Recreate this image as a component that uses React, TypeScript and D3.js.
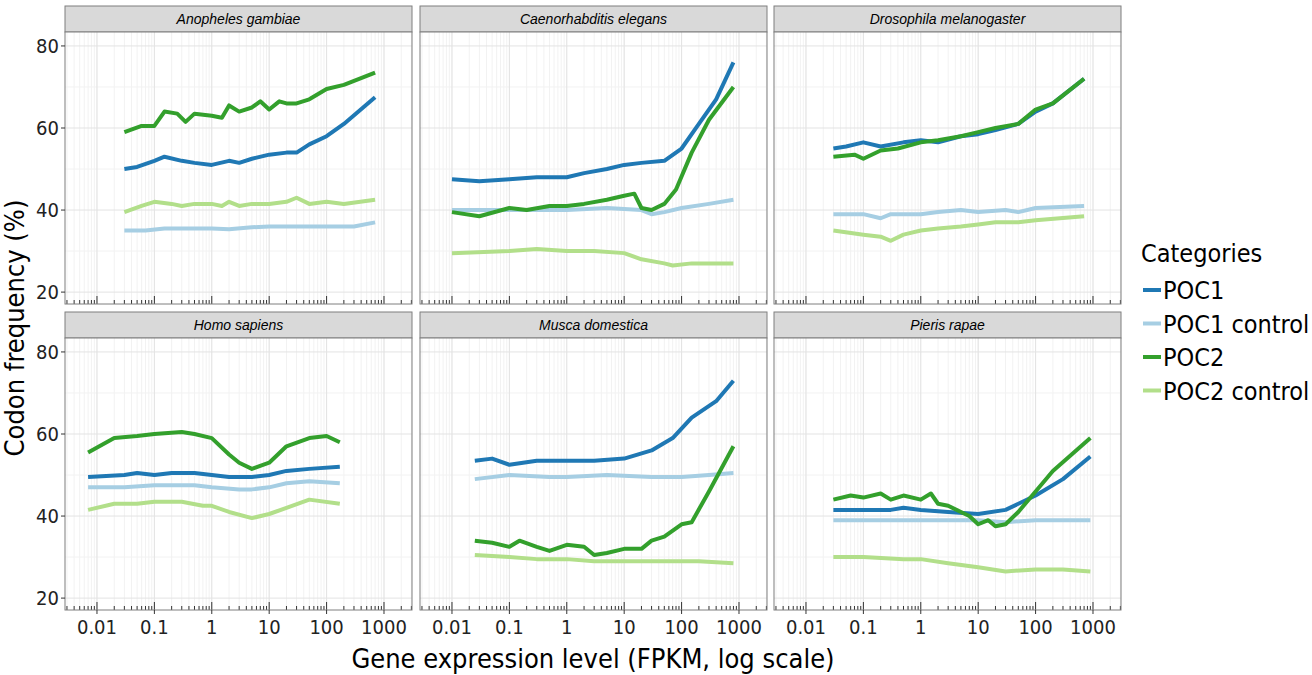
import React from 'react';
import * as d3 from 'd3';

type Pt = [number, number];

const species = ['Anopheles gambiae', 'Caenorhabditis elegans', 'Drosophila melanogaster', 'Homo sapiens', 'Musca domestica', 'Pieris rapae'];
const categories = ['POC1', 'POC1 control', 'POC2', 'POC2 control'];
const colors = ['#1f78b4', '#a6cee3', '#33a02c', '#b2df8a'];
const yTicks = [20, 40, 60, 80];
const xTicks = [0.01, 0.1, 1, 10, 100, 1000];
const xTickLabels = ['0.01', '0.1', '1', '10', '100', '1000'];

const anopheles: Pt[][] = [
  [[0.03,50],[0.05,50.5],[0.1,52],[0.15,53],[0.3,52],[0.5,51.5],[1,51],[2,52],[3,51.5],[5,52.5],[10,53.5],[20,54],[30,54],[50,56],[100,58],[200,61],[700,67.5]],
  [[0.03,35],[0.07,35],[0.15,35.5],[0.3,35.5],[1,35.5],[2,35.3],[5,35.8],[10,36],[30,36],[100,36],[300,36],[700,37]],
  [[0.03,59],[0.06,60.5],[0.1,60.5],[0.15,64],[0.25,63.5],[0.35,61.5],[0.5,63.5],[1,63],[1.5,62.5],[2,65.5],[3,64],[5,65],[7,66.5],[10,64.5],[15,66.5],[20,66],[30,66],[50,67],[100,69.5],[200,70.5],[700,73.5]],
  [[0.03,39.5],[0.06,41],[0.1,42],[0.2,41.5],[0.3,41],[0.5,41.5],[1,41.5],[1.5,41],[2,42],[3,41],[5,41.5],[10,41.5],[20,42],[30,43],[50,41.5],[100,42],[200,41.5],[700,42.5]],
];
const caenorhabditis: Pt[][] = [
  [[0.01,47.5],[0.03,47],[0.1,47.5],[0.3,48],[0.5,48],[1,48],[2,49],[5,50],[10,51],[20,51.5],[50,52],[100,55],[200,61],[400,67],[800,76]],
  [[0.01,40],[0.1,40],[1,40],[5,40.5],[20,40],[30,39],[50,39.5],[100,40.5],[300,41.5],[800,42.5]],
  [[0.01,39.5],[0.03,38.5],[0.1,40.5],[0.2,40],[0.5,41],[1,41],[2,41.5],[5,42.5],[10,43.5],[15,44],[20,40.5],[30,40],[50,41.5],[80,45],[150,54],[300,62],[800,70]],
  [[0.01,29.5],[0.1,30],[0.3,30.5],[1,30],[3,30],[10,29.5],[20,28],[50,27],[70,26.5],[150,27],[800,27]],
];
const drosophila: Pt[][] = [
  [[0.03,55],[0.05,55.5],[0.1,56.5],[0.2,55.5],[0.5,56.5],[1,57],[2,56.5],[5,58],[10,58.5],[20,59.5],[50,61],[100,64],[200,66],[700,72]],
  [[0.03,39],[0.1,39],[0.2,38],[0.3,39],[1,39],[2,39.5],[5,40],[10,39.5],[30,40],[50,39.5],[100,40.5],[700,41]],
  [[0.03,53],[0.07,53.5],[0.1,52.5],[0.2,54.5],[0.4,55],[1,56.5],[2,57],[5,58],[10,59],[20,60],[50,61],[100,64.5],[200,66],[700,72]],
  [[0.03,35],[0.1,34],[0.2,33.5],[0.3,32.5],[0.5,34],[1,35],[2,35.5],[5,36],[10,36.5],[20,37],[50,37],[100,37.5],[700,38.5]],
];
const homo: Pt[][] = [
  [[0.007,49.5],[0.03,50],[0.05,50.5],[0.1,50],[0.2,50.5],[0.5,50.5],[1,50],[2,49.5],[5,49.5],[10,50],[20,51],[50,51.5],[170,52]],
  [[0.007,47],[0.03,47],[0.1,47.5],[0.5,47.5],[1,47],[3,46.5],[5,46.5],[10,47],[20,48],[50,48.5],[170,48]],
  [[0.007,55.5],[0.02,59],[0.05,59.5],[0.1,60],[0.3,60.5],[0.5,60],[1,59],[2,55],[3,53],[5,51.5],[10,53],[20,57],[50,59],[100,59.5],[170,58]],
  [[0.007,41.5],[0.02,43],[0.05,43],[0.1,43.5],[0.3,43.5],[0.7,42.5],[1,42.5],[2,41],[5,39.5],[10,40.5],[20,42],[50,44],[170,43]],
];
const musca: Pt[][] = [
  [[0.025,53.5],[0.05,54],[0.1,52.5],[0.3,53.5],[1,53.5],[3,53.5],[10,54],[30,56],[70,59],[150,64],[400,68],[800,73]],
  [[0.025,49],[0.1,50],[0.5,49.5],[1,49.5],[5,50],[30,49.5],[100,49.5],[300,50],[800,50.5]],
  [[0.025,34],[0.05,33.5],[0.1,32.5],[0.15,34],[0.3,32.5],[0.5,31.5],[1,33],[2,32.5],[3,30.5],[5,31],[10,32],[20,32],[30,34],[50,35],[100,38],[150,38.5],[300,46],[800,57]],
  [[0.025,30.5],[0.1,30],[0.3,29.5],[1,29.5],[3,29],[10,29],[30,29],[100,29],[200,29],[800,28.5]],
];
const pieris: Pt[][] = [
  [[0.03,41.5],[0.1,41.5],[0.3,41.5],[0.5,42],[1,41.5],[3,41],[10,40.5],[30,41.5],[100,45],[300,49],[900,54.5]],
  [[0.03,39],[0.1,39],[1,39],[10,39],[30,38.5],[100,39],[900,39]],
  [[0.03,44],[0.06,45],[0.1,44.5],[0.2,45.5],[0.3,44],[0.5,45],[1,44],[1.5,45.5],[2,43],[3,42.5],[5,41],[7,40],[10,38],[15,39],[20,37.5],[30,38],[50,41],[100,46],[200,51],[900,59]],
  [[0.03,30],[0.1,30],[0.5,29.5],[1,29.5],[3,28.5],[10,27.5],[30,26.5],[100,27],[300,27],[900,26.5]],
];
const panelData = [anopheles, caenorhabditis, drosophila, homo, musca, pieris];

const FONT = "'Liberation Sans Narrow', 'DejaVu Sans Condensed', sans-serif";
const colX = [65, 420, 774];
const panelW = 347;
const rowY = [6, 312];
const stripH = 26;
const panelH = 272;

const minorX: number[] = [];
for (let e = -3; e <= 3; e++) for (let k = 1; k <= 9; k++) minorX.push(k * Math.pow(10, e));

export default function App() {
  const x = d3.scaleLog().domain([Math.pow(10, -2.557), Math.pow(10, 3.488)]).range([0, panelW]);
  const y = d3.scaleLinear().domain([17.1, 83.4]).range([panelH, 0]);
  const line = d3.line<Pt>().x(d => x(d[0])).y(d => y(d[1]));
  const [xmin, xmax] = x.domain();
  return (
    <svg width={1312} height={675} style={{ position: 'absolute', left: 0, top: 0, background: '#fff' }} fontFamily={FONT}>
      {species.map((sp, i) => {
        const cx = colX[i % 3];
        const ry = rowY[Math.floor(i / 3)];
        const py = ry + stripH;
        return (
          <g key={sp}>
            <rect x={cx} y={ry} width={panelW} height={stripH} fill="#d9d9d9" stroke="#7f7f7f" strokeWidth={1} />
            <text x={cx + panelW / 2} y={ry + 18} textAnchor="middle" fontFamily="'Liberation Sans', Arial, sans-serif" fontStyle="italic" fontSize={14}>{sp}</text>
            <g transform={`translate(${cx},${py})`}>
              <rect width={panelW} height={panelH} fill="#fff" />
              {[30, 50, 70].map(v => <line key={'ym' + v} x1={0} x2={panelW} y1={y(v)} y2={y(v)} stroke="#f2f2f2" />)}
              {minorX.filter(v => v >= xmin && v <= xmax).map((v, j) => <line key={'xm' + j} x1={x(v)} x2={x(v)} y1={0} y2={panelH} stroke="#f2f2f2" />)}
              {yTicks.map(v => <line key={'y' + v} x1={0} x2={panelW} y1={y(v)} y2={y(v)} stroke="#e3e3e3" />)}
              {xTicks.map(v => <line key={'x' + v} x1={x(v)} x2={x(v)} y1={0} y2={panelH} stroke="#e3e3e3" />)}
              {minorX.filter(v => v >= xmin && v <= xmax).map((v, j) => {
                const major = Math.abs(Math.log10(v) - Math.round(Math.log10(v))) < 1e-9;
                return <line key={'r' + j} x1={x(v)} x2={x(v)} y1={panelH} y2={panelH - (major ? 8 : 4)} stroke="#333" strokeWidth={1} />;
              })}
              {panelData[i].map((s, k) => (
                <path key={k} d={line(s) || ''} fill="none" stroke={colors[k]} strokeWidth={4} strokeLinejoin="round" />
              ))}
              <rect width={panelW} height={panelH} fill="none" stroke="#7f7f7f" />
              {i % 3 === 0 && yTicks.map(v => (
                <g key={'yl' + v}>
                  <line x1={-4} x2={0} y1={y(v)} y2={y(v)} stroke="#333" />
                  <text x={-6} y={y(v) + 7} textAnchor="end" fontSize={20} fill="#222">{v}</text>
                </g>
              ))}
              {i >= 3 && xTicks.map((v, j) => (
                <g key={'xl' + v}>
                  <line x1={x(v)} x2={x(v)} y1={panelH} y2={panelH + 4} stroke="#333" />
                  <text x={x(v)} y={panelH + 24} textAnchor="middle" fontSize={20} fill="#222">{xTickLabels[j]}</text>
                </g>
              ))}
            </g>
          </g>
        );
      })}
      <text transform="translate(24,328) rotate(-90)" textAnchor="middle" fontSize={27}>Codon frequency (%)</text>
      <text x={593} y={668} textAnchor="middle" fontSize={27}>Gene expression level (FPKM, log scale)</text>
      <text x={1141} y={262} fontSize={25}>Categories</text>
      {categories.map((c, k) => (
        <g key={c} transform={`translate(1141,${290 + k * 33.5})`}>
          <line x1={2} x2={20} y1={0} y2={0} stroke={colors[k]} strokeWidth={4} />
          <text x={22} y={9} fontSize={25}>{c}</text>
        </g>
      ))}
    </svg>
  );
}
